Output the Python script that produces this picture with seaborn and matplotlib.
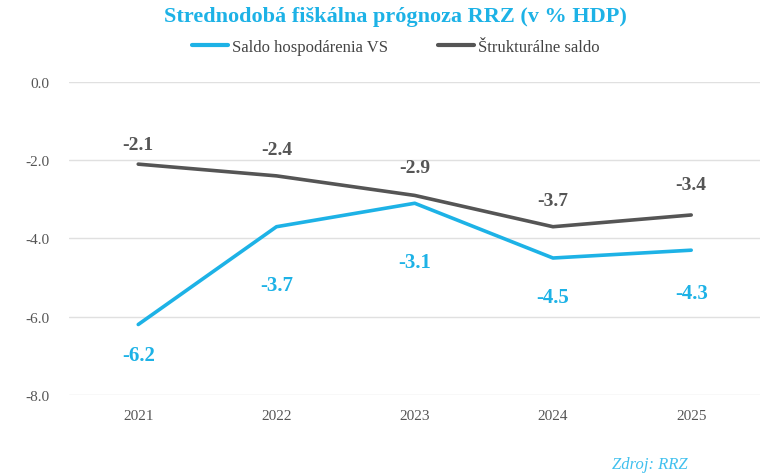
import pandas as pd
import numpy as np
import seaborn as sns
import matplotlib.pyplot as plt

years = ["2021", "2022", "2023", "2024", "2025"]
saldo_vs = [-6.2, -3.7, -3.1, -4.5, -4.3]
strukturalne = [-2.1, -2.4, -2.9, -3.7, -3.4]
yticks = [0.0, -2.0, -4.0, -6.0, -8.0]

# label offsets (points) as placed in the original chart
blue_offsets = [-22, -42, -42, -28, -31]
gray_offsets = [14, 19, 20, 19, 22]

blue = "#1DB2E6"
gray = "#555555"

data = pd.DataFrame({
    "Rok": years * 2,
    "Hodnota": saldo_vs + strukturalne,
    "Séria": ["Saldo hospodárenia VS"] * 5 + ["Štrukturálne saldo"] * 5,
})

sns.set_style("white")
plt.rcParams["font.family"] = ["Liberation Serif", "DejaVu Serif"]

fig = plt.figure(figsize=(7.68, 4.77), dpi=100)
ax = fig.add_axes([0.09, 0.17, 0.90, 0.656])

sns.lineplot(data=data, x="Rok", y="Hodnota", hue="Séria",
             palette=[blue, gray], linewidth=2.6, ax=ax, legend=False)

# value labels
for i, v in enumerate(saldo_vs):
    ax.annotate(f"{v:.1f}", (i, v), xytext=(0, blue_offsets[i]), textcoords="offset points",
                ha="center", va="center", color=blue, fontsize=15, fontweight="bold")
for i, v in enumerate(strukturalne):
    ax.annotate(f"{v:.1f}", (i, v), xytext=(0, gray_offsets[i]), textcoords="offset points",
                ha="center", va="center", color=gray, fontsize=14, fontweight="bold")

ax.set_ylim(-8, 0)
ax.set_xlim(-0.5, 4.5)
ax.set_yticks(yticks)
ax.set_yticklabels([f"{t:.1f}" for t in yticks])
ax.grid(axis="y", color="#e0e0e0", linewidth=1)
ax.tick_params(axis="both", length=0, labelsize=11, labelcolor="#555555")
ax.tick_params(axis="y", pad=14)
ax.tick_params(axis="x", pad=10)
ax.set_xlabel("")
ax.set_ylabel("")
sns.despine(ax=ax, left=True, bottom=True)

fig.text(0.515, 0.965, "Strednodobá fiškálna prógnoza RRZ (v % HDP)",
         ha="center", va="center", color=blue, fontsize=16, fontweight="bold")

# legend
handles = [plt.Line2D([0], [0], color=blue, lw=3), plt.Line2D([0], [0], color=gray, lw=3)]
fig.legend(handles, ["Saldo hospodárenia VS", "Štrukturálne saldo"], loc="center",
           bbox_to_anchor=(0.515, 0.9), ncol=2, frameon=False, fontsize=12,
           handlelength=2.2, handletextpad=0.2, columnspacing=3,
           labelcolor="#444444")

fig.text(0.895, 0.026, "Zdroj: RRZ", ha="right", va="center", color="#3FC0EE",
         fontsize=12, style="italic")

plt.savefig("out.png", dpi=100)
